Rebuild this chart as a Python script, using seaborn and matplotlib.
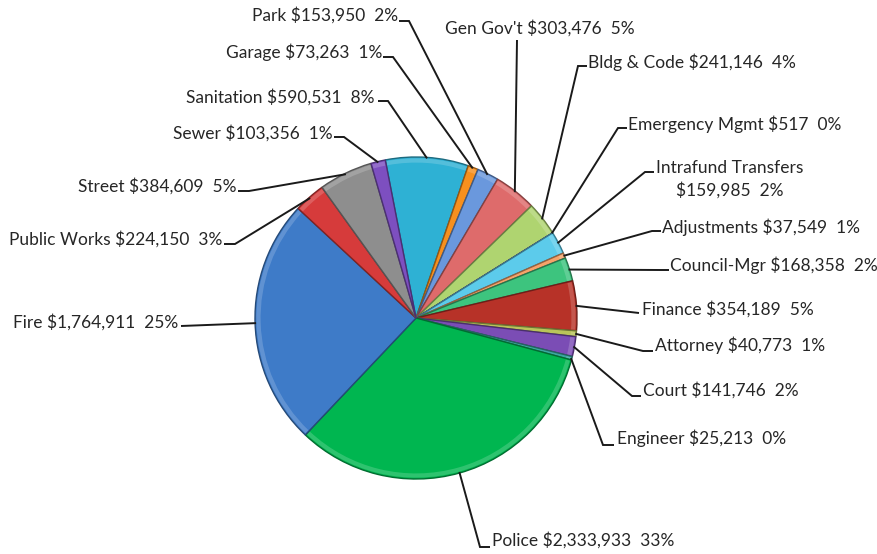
import numpy as np
import matplotlib
matplotlib.use("Agg")
import matplotlib.pyplot as plt
import seaborn as sns
from matplotlib.colors import to_rgb
from matplotlib.patches import Arc

# ---------------- data (clockwise order as drawn) ----------------
categories = ["Sanitation", "Garage", "Park", "Gen Gov't", "Bldg & Code",
              "Emergency Mgmt", "Intrafund Transfers", "Adjustments",
              "Council-Mgr", "Finance", "Attorney", "Court", "Engineer",
              "Police", "Fire", "Public Works", "Street", "Sewer"]
values = [590531, 73263, 153950, 303476, 241146,
          517, 159985, 37549,
          168358, 354189, 40773, 141746, 25213,
          2333933, 1764911, 224150, 384609, 103356]
percents = [8, 1, 2, 5, 4,
            0, 2, 1,
            2, 5, 1, 2, 0,
            33, 25, 3, 5, 1]
slice_colors = ["#2EB1D4", "#F7901E", "#6A98DD", "#DE6B6B", "#AFD470",
                "#8064A2", "#5CCBEB", "#F6A36A",
                "#3DC47E", "#B73228", "#B9C45A", "#7B4DB5", "#3AA8A0",
                "#00B650", "#3E7BC8", "#D63B3B", "#8E8E8E", "#7D4FC0"]

# ---------------- layout (image pixel coords, y down) ----------------
# text x, text y(center), ha, leader bend points (from pie outward)
layout = {
    "Park":               (398, 15, "right", [(409, 21), (399, 21)]),
    "Garage":             (382, 52, "right", [(393, 57), (383, 57)]),
    "Sanitation":         (375, 97, "right", [(388, 101), (378, 101)]),
    "Sewer":              (333, 133, "right", [(344, 137), (334, 137)]),
    "Street":             (237, 186, "right", [(249, 191), (238, 191)]),
    "Public Works":       (222, 239, "right", [(235, 244), (224, 244)]),
    "Fire":               (178, 322, "right", [(181, 326)]),
    "Gen Gov't":          (445, 28, "left", [(517, 40)]),
    "Bldg & Code":        (588, 62, "left", [(578, 66), (587, 66)]),
    "Emergency Mgmt":     (628, 124, "left", [(618, 128), (627, 128)]),
    "Intrafund Transfers": (730, 179, "center", [(645, 172), (654, 172)]),
    "Adjustments":        (662, 227, "left", [(652, 231), (661, 231)]),
    "Council-Mgr":        (670, 265, "left", [(660, 270), (669, 270)]),
    "Finance":            (642, 309, "left", [(639, 313)]),
    "Attorney":           (655, 345, "left", [(643, 351), (653, 351)]),
    "Court":              (643, 390, "left", [(632, 396), (641, 396)]),
    "Engineer":           (617, 438, "left", [(603, 445), (614, 445)]),
    "Police":             (492, 540, "left", [(480, 547), (490, 547)]),
}

W, H = 878, 554
CX, CY, R = 416, 318, 161

sns.set_theme(style="white")
plt.rcParams["font.family"] = ["Lato", "DejaVu Sans"]

fig = plt.figure(figsize=(W / 100, H / 100), dpi=100)
fig.patch.set_facecolor("white")
ax = fig.add_axes([0, 0, 1, 1])

palette = sns.color_palette(slice_colors)


def shade(c, f):
    r, g, b = to_rgb(c)
    return (r * f, g * f, b * f)


def tint(c, f):
    r, g, b = to_rgb(c)
    return (r + (1 - r) * f, g + (1 - g) * f, b + (1 - b) * f)


wedges, _ = ax.pie(values, colors=palette, startangle=101, counterclock=False,
                   center=(CX, H - CY), radius=R,
                   wedgeprops=dict(linewidth=1.0))
for w, c in zip(wedges, palette):
    w.set_edgecolor(shade(c, 0.6))
    # bevel highlight along the outer rim only
    t1, t2 = sorted([w.theta1, w.theta2])
    if t2 - t1 > 1.0:
        ax.add_patch(Arc((CX, H - CY), 2 * (R - 3.5), 2 * (R - 3.5),
                         theta1=t1 + 0.4, theta2=t2 - 0.4,
                         color=tint(c, 0.3), lw=3.0, alpha=0.6))

ax.set_xlim(0, W)
ax.set_ylim(0, H)
ax.set_aspect("equal")
ax.axis("off")

FS = 12.5
for w, name, val, pct in zip(wedges, categories, values, percents):
    tx, ty, ha, pts = layout[name]
    sep = "\n" if name == "Intrafund Transfers" else " "
    label = f"{name}{sep}${val:,}  {pct}%"
    ang = np.deg2rad((w.theta1 + w.theta2) / 2)
    ax0 = CX + (R - 1) * np.cos(ang)
    ay0 = CY - (R - 1) * np.sin(ang)
    xs = [ax0] + [p[0] for p in pts]
    ys = [H - ay0] + [H - p[1] for p in pts]
    ax.plot(xs, ys, color="#1a1a1a", lw=1.4, solid_capstyle="butt",
            solid_joinstyle="miter")
    ax.text(tx, H - ty, label, ha=ha, va="center", fontsize=FS,
            color="#262626", linespacing=1.4, multialignment="center")

fig.savefig("out.png", dpi=100, facecolor="white")
